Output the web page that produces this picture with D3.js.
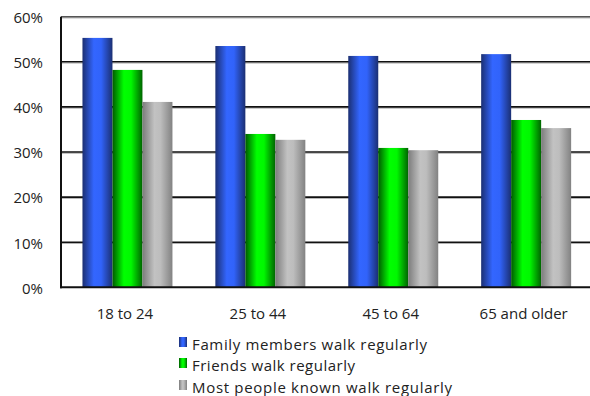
<!DOCTYPE html>
<html>
<head>
<meta charset="utf-8">
<script src="https://cdn.jsdelivr.net/npm/d3@7"></script>
<style>
  html, body { margin: 0; padding: 0; background: #fff; }
  svg { display: block; }
  text { font-family: "Open Sans", "Noto Sans", sans-serif; fill: #222; }
</style>
</head>
<body>
<svg id="chart" width="590" height="396"></svg>
<script>
// Share who say people around them walk regularly, by age group
const categories = ["18 to 24", "25 to 44", "45 to 64", "65 and older"];
const seriesNames = [
  "Family members walk regularly",
  "Friends walk regularly",
  "Most people known walk regularly"
];
const familyValues  = [55.3, 53.5, 51.3, 51.7];
const friendsValues = [48.2, 34.0, 30.9, 37.1];
const mostValues    = [41.1, 32.7, 30.4, 35.3];
const yTicks = [0, 10, 20, 30, 40, 50, 60];

const seriesValues = [familyValues, friendsValues, mostValues];
const rows = categories.map((c, i) => ({
  category: c,
  values: seriesNames.map((s, k) => ({ key: s, k, value: seriesValues[k][i] }))
}));

const svg = d3.select("#chart");
const plotLeft = 61, plotRight = 592.6, plotTop = 16.7, plotBottom = 287.3;

const y = d3.scaleLinear().domain([0, 60]).range([plotBottom, plotTop]);
const x0 = d3.scaleBand().domain(categories).range([plotLeft, plotRight])
  .paddingInner(0.323).paddingOuter(0.1615);
const x1 = d3.scaleBand().domain(seriesNames).range([0, x0.bandwidth()]);

// cylinder-like horizontal gradients for each series
const defs = svg.append("defs");
const gradStops = [
  [["0%", "#1b2f72"], ["38%", "#3366ff"], ["62%", "#3163fa"], ["100%", "#1b2f72"]],
  [["0%", "#005a00"], ["38%", "#00ff00"], ["62%", "#00f800"], ["100%", "#006400"]],
  [["0%", "#7c7c7c"], ["40%", "#c2c2c2"], ["60%", "#bdbdbd"], ["100%", "#828282"]]
];
gradStops.forEach((stops, k) => {
  const g = defs.append("linearGradient").attr("id", "grad" + k)
    .attr("x1", "0%").attr("x2", "100%").attr("y1", "0%").attr("y2", "0%");
  stops.forEach(([o, c]) => g.append("stop").attr("offset", o).attr("stop-color", c));
});

// gridlines with a soft shadow line below each
const grid = svg.append("g");
yTicks.filter(t => t > 0).forEach(t => {
  grid.append("line").attr("x1", plotLeft).attr("x2", 590)
    .attr("y1", y(t) + 1.2).attr("y2", y(t) + 1.2)
    .attr("stroke", "#a8a8a8").attr("stroke-width", 1);
  grid.append("line").attr("x1", plotLeft).attr("x2", 590)
    .attr("y1", y(t)).attr("y2", y(t))
    .attr("stroke", t === 60 ? "#555" : "#111").attr("stroke-width", 1.6);
});

// bars
svg.append("g").selectAll("g").data(rows).join("g")
  .attr("transform", d => `translate(${x0(d.category)},0)`)
  .selectAll("rect").data(d => d.values).join("rect")
  .attr("x", d => x1(d.key))
  .attr("width", x1.bandwidth())
  .attr("y", d => y(d.value))
  .attr("height", d => y(0) - y(d.value))
  .attr("fill", d => `url(#grad${d.k})`);

// axis lines
svg.append("line").attr("x1", plotLeft).attr("x2", plotLeft).attr("y1", plotTop).attr("y2", plotBottom + 1)
  .attr("stroke", "#111").attr("stroke-width", 2);
svg.append("line").attr("x1", plotLeft - 1).attr("x2", 590).attr("y1", plotBottom).attr("y2", plotBottom)
  .attr("stroke", "#111").attr("stroke-width", 2);

// y-axis labels
const yAxis = d3.axisLeft(y).tickValues(yTicks).tickFormat(d => d + "%").tickSize(0).tickPadding(18);
const ya = svg.append("g").attr("transform", `translate(${plotLeft},1)`).call(yAxis);
ya.select(".domain").remove();
ya.selectAll("text").style("font-size", "15px").attr("fill", "#222")
  .style("font-family", '"Open Sans", sans-serif');

// category labels
const xAxis = d3.axisBottom(x0).tickSize(0).tickPadding(21);
const xa = svg.append("g").attr("transform", `translate(-2.5,${plotBottom})`).call(xAxis);
xa.select(".domain").remove();
xa.selectAll("text").style("font-size", "15px").attr("fill", "#222")
  .style("font-family", '"Open Sans", sans-serif');

// legend
const legendBaselines = [350, 371, 393];
const legendWidths = [235, 163, 260];
const legend = svg.append("g");
seriesNames.forEach((s, k) => {
  legend.append("rect").attr("x", 179).attr("y", legendBaselines[k] - 13)
    .attr("width", 8).attr("height", 10).attr("fill", `url(#grad${k})`);
  legend.append("text").attr("x", 192).attr("y", legendBaselines[k])
    .style("font-size", "15px")
    .attr("textLength", legendWidths[k]).attr("lengthAdjust", "spacing")
    .text(s);
});
</script>
</body>
</html>
